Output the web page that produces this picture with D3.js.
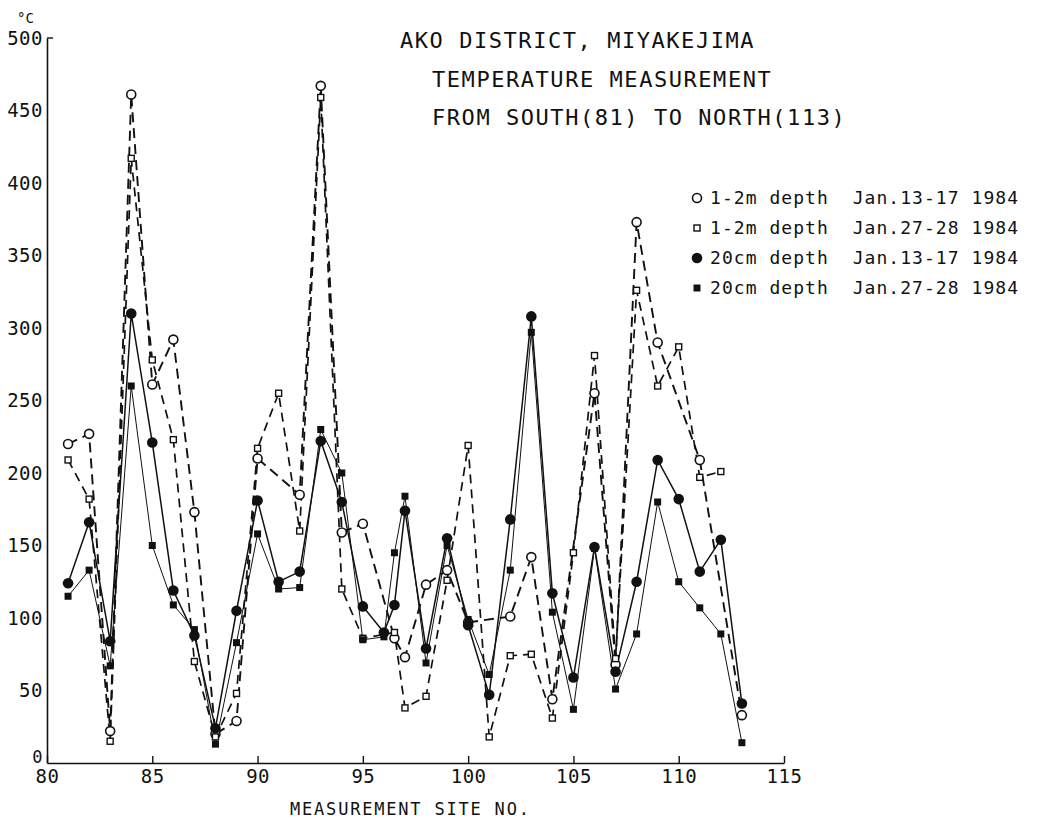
<!DOCTYPE html>
<html>
<head>
<meta charset="utf-8">
<script src="https://cdn.jsdelivr.net/npm/d3@7"></script>
<style>
  body { margin: 0; background: #fff; }
  text { font-family: 'DejaVu Sans Mono', monospace; fill: #111; white-space: pre; }
</style>
</head>
<body>
<div id="chart"></div>
<script>
// measurement sites (96.5 is the extra site plotted between 96 and 97)
const sites = [81, 82, 83, 84, 85, 86, 87, 88, 89, 90, 91, 92, 93, 94, 95, 96, 96.5, 97,
               98, 99, 100, 101, 102, 103, 104, 105, 106, 107, 108, 109, 110, 111, 112, 113];

// 1-2m depth, Jan.13-17 (open circle)
const deepJan13 = [220, 227, 22, 461, 261, 292, 173, 20, 29, 210, null, 185, 467, 159, 165, null, 86, 73,
                   123, 133, 97, null, 101, 142, 44, null, 255, 68, 373, 290, null, 209, null, 33];
// 1-2m depth, Jan.27-28 (open square)
const deepJan27 = [209, 182, 15, 417, 278, 223, 70, 18, 48, 217, 255, 160, 459, 120, 86, null, 90, 38,
                   46, 126, 219, 18, 74, 75, 31, 145, 281, 72, 326, 260, 287, 197, 201, null];
// 20cm depth, Jan.13-17 (filled circle)
const shallowJan13 = [124, 166, 84, 310, 221, 119, 88, 24, 105, 181, 125, 132, 222, 180, 108, 90, 109, 174,
                      79, 155, 95, 47, 168, 308, 117, 59, 149, 63, 125, 209, 182, 132, 154, 41];
// 20cm depth, Jan.27-28 (filled square)
const shallowJan27 = [115, 133, 67, 260, 150, 109, 92, 13, 83, 158, 120, 121, 230, 200, 85, 87, 145, 184,
                      69, 150, 99, 61, 133, 297, 104, 37, 148, 51, 89, 180, 125, 107, 89, 14];

const xTicks = [80, 85, 90, 95, 100, 105, 110, 115];
const yTicks = [0, 50, 100, 150, 200, 250, 300, 350, 400, 450, 500];
const titleLines = ['AKO DISTRICT, MIYAKEJIMA', 'TEMPERATURE MEASUREMENT', 'FROM SOUTH(81) TO NORTH(113)'];
const legendLabels = ['1-2m depth  Jan.13-17 1984', '1-2m depth  Jan.27-28 1984',
                      '20cm depth  Jan.13-17 1984', '20cm depth  Jan.27-28 1984'];

const width = 1037, height = 820;

const svg = d3.select('#chart').append('svg')
    .attr('width', width)
    .attr('height', height);

const x = d3.scaleLinear().domain([80, 115]).range([47, 784]);
const y = d3.scaleLinear().domain([0, 500]).range([763, 38]);

const series = [
    {values: deepJan13, marker: 'openCircle', dash: '10,6', lw: 1.9},
    {values: deepJan27, marker: 'openSquare', dash: '9,6', lw: 1.7},
    {values: shallowJan13, marker: 'dot', dash: null, lw: 1.5},
    {values: shallowJan27, marker: 'box', dash: null, lw: 1.0}
];

// axes
const xAxis = svg.append('g')
    .attr('transform', `translate(0,${y(0)})`)
    .call(d3.axisBottom(x).tickValues(xTicks).tickSize(-7).tickSizeOuter(0).tickPadding(7));
xAxis.select('.domain').attr('stroke', '#111').attr('stroke-width', 1.6);
xAxis.selectAll('.tick line').attr('stroke', '#111').attr('stroke-width', 1.4);
xAxis.selectAll('text')
    .attr('fill', '#111')
    .style('font-family', 'DejaVu Sans Mono')
    .style('font-size', '19px')
    .style('letter-spacing', '0.5px');

const yAxis = svg.append('g')
    .attr('transform', `translate(${x(80)},0)`)
    .call(d3.axisLeft(y).tickValues(yTicks).tickSize(0).tickSizeOuter(0).tickPadding(4));
yAxis.select('.domain').attr('stroke', '#111').attr('stroke-width', 1.6);
yAxis.selectAll('text')
    .attr('fill', '#111')
    .style('font-family', 'DejaVu Sans Mono')
    .style('font-size', '19px')
    .style('letter-spacing', '0.5px');
// the zero label sits a little higher, just clear of the "80" below it
yAxis.selectAll('.tick').filter(d => d === 0).select('text')
    .attr('dy', '-0.05em').style('font-size', '17px');

// small tick at the top of the y axis
svg.append('line')
    .attr('x1', x(80)).attr('x2', x(80) + 6)
    .attr('y1', y(500)).attr('y2', y(500))
    .attr('stroke', '#111').attr('stroke-width', 1.4);

svg.append('text').attr('x', 17).attr('y', 23).style('font-size', '14px').text('°C');

svg.append('text')
    .attr('x', 290).attr('y', 815)
    .style('font-size', '17px').style('letter-spacing', '1.8px')
    .text('MEASUREMENT SITE NO.');

// title
const titlePos = [[400, 48], [432, 87], [432, 125]];
svg.selectAll('.title').data(titleLines).enter().append('text')
    .attr('class', 'title')
    .attr('x', (d, i) => titlePos[i][0])
    .attr('y', (d, i) => titlePos[i][1])
    .style('font-size', '22px').style('letter-spacing', '1.55px')
    .text(d => d);

// lines
const line = d3.line().x(d => x(d.site)).y(d => y(d.t));

series.forEach(s => {
    s.points = sites.map((site, i) => ({site: site, t: s.values[i]})).filter(d => d.t !== null);
    svg.append('path')
        .datum(s.points)
        .attr('fill', 'none')
        .attr('stroke', '#111')
        .attr('stroke-width', s.lw)
        .attr('stroke-dasharray', s.dash)
        .attr('d', line);
});

function drawMarker(g, kind, cx, cy) {
    if (kind === 'openCircle') {
        g.append('circle').attr('cx', cx).attr('cy', cy).attr('r', 4.5)
            .attr('fill', '#fff').attr('stroke', '#111').attr('stroke-width', 1.6);
    } else if (kind === 'openSquare') {
        g.append('rect').attr('x', cx - 3).attr('y', cy - 3).attr('width', 6).attr('height', 6)
            .attr('fill', '#fff').attr('stroke', '#111').attr('stroke-width', 1.4);
    } else if (kind === 'dot') {
        g.append('circle').attr('cx', cx).attr('cy', cy).attr('r', 5.3).attr('fill', '#111');
    } else {
        g.append('rect').attr('x', cx - 3.5).attr('y', cy - 3.5).attr('width', 7).attr('height', 7)
            .attr('fill', '#111');
    }
}

series.forEach(s => {
    const g = svg.append('g');
    s.points.forEach(d => drawMarker(g, s.marker, x(d.site), y(d.t)));
});

// legend
const legend = svg.append('g');
legendLabels.forEach((label, i) => {
    const ly = 204 + i * 30;
    drawMarker(legend, series[i].marker, 697, ly - 6);
    legend.append('text')
        .attr('x', 710).attr('y', ly)
        .attr('xml:space', 'preserve')
        .style('font-size', '18px').style('letter-spacing', '1.05px')
        .text(label);
});
</script>
</body>
</html>
